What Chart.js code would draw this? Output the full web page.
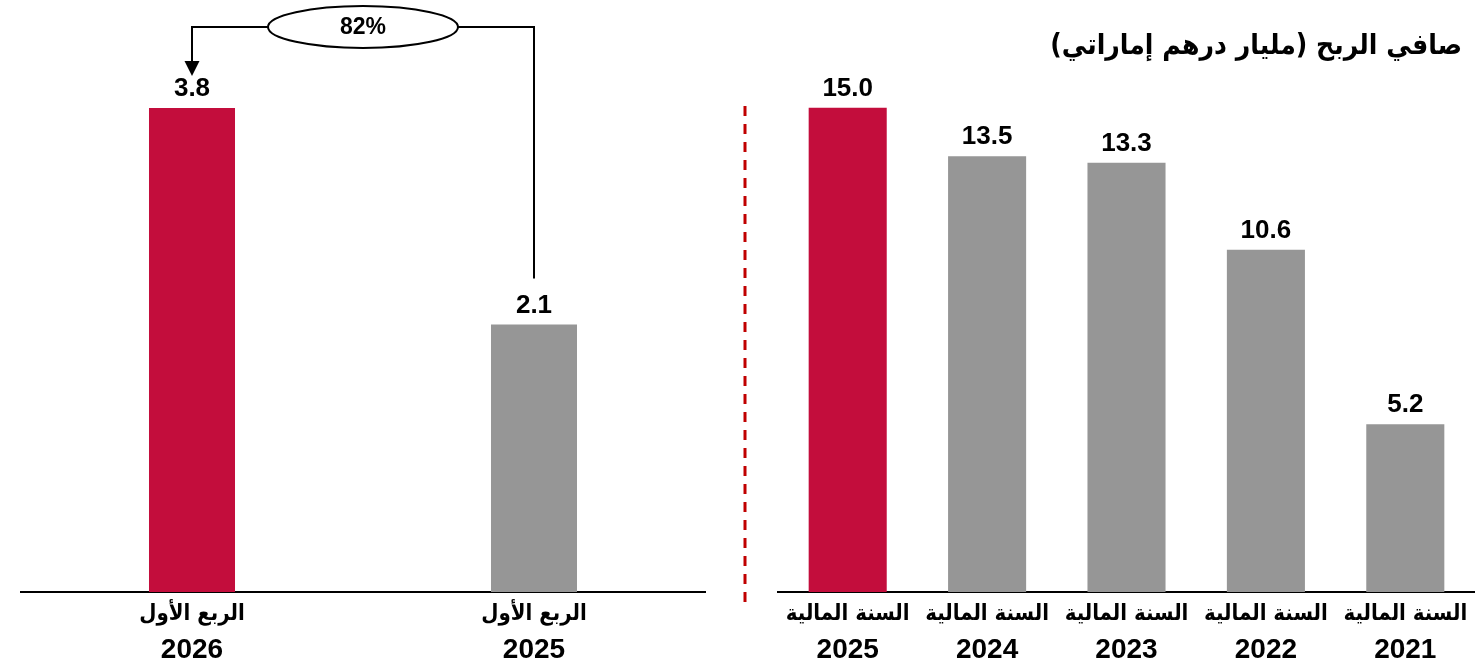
<!DOCTYPE html>
<html>
<head>
<meta charset="utf-8">
<script src="https://cdn.jsdelivr.net/npm/chart.js@4.4.1/dist/chart.umd.min.js"></script>
<style>
  html,body{margin:0;padding:0;background:#fff;}
  #wrap{position:relative;width:1475px;height:664px;overflow:hidden;}
  #left{position:absolute;left:0;top:0;}
  #right{position:absolute;left:730px;top:0;}
</style>
</head>
<body>
<div id="wrap">
  <canvas id="left" width="730" height="664"></canvas>
  <canvas id="right" width="745" height="664"></canvas>
</div>
<script>
// ---- data ----
const quarterLabels = [['الربع الأول', '2025'], ['الربع الأول', '2026']];
const quarterValues = [2.1, 3.8];
const yearLabels = [['السنة المالية', '2021'], ['السنة المالية', '2022'], ['السنة المالية', '2023'], ['السنة المالية', '2024'], ['السنة المالية', '2025']];
const yearValues = [5.2, 10.6, 13.3, 13.5, 15.0];
const growthLabel = '82%';
const titleText = 'صافي الربح (مليار درهم إماراتي)';

const RED = '#C30D3C';
const GREY = '#969696';
const FONT = "'Liberation Sans', Arial, 'DejaVu Sans', sans-serif";
const AR_FONT = "'DejaVu Sans Condensed', 'DejaVu Sans', sans-serif";

function colorsFor(values) {
  return values.map((v, i) => i === values.length - 1 ? RED : GREY);
}

const valueLabelPlugin = {
  id: 'valueLabels',
  afterDatasetsDraw(chart) {
    const ctx = chart.ctx;
    const meta = chart.getDatasetMeta(0);
    const vals = chart.data.datasets[0].data;
    ctx.save();
    ctx.fillStyle = '#000';
    ctx.font = 'bold 26px ' + FONT;
    ctx.textAlign = 'center';
    ctx.textBaseline = 'middle';
    meta.data.forEach((bar, i) => {
      ctx.fillText(vals[i].toFixed(1), bar.x, bar.y - 19);
    });
    ctx.restore();
  }
};

// Arabic first line of each category label, placed at the x scale's tick positions
const arabicTickPlugin = {
  id: 'arabicTicks',
  afterDraw(chart) {
    const ctx = chart.ctx;
    const xs = chart.scales.x;
    const labels = chart.data.labels;
    ctx.save();
    ctx.fillStyle = '#000';
    ctx.font = 'bold 22px ' + AR_FONT;
    ctx.textAlign = 'center';
    ctx.textBaseline = 'middle';
    ctx.direction = 'rtl';
    labels.forEach((lab, i) => {
      ctx.fillText(lab[0], xs.getPixelForTick(i), xs.top + 22);
    });
    ctx.restore();
  }
};

const arrowPlugin = {
  id: 'growthArrow',
  afterDraw(chart) {
    const ctx = chart.ctx;
    const meta = chart.getDatasetMeta(0);
    const from = meta.data[0]; // 2025 (right)
    const to = meta.data[1];   // 2026 (left)
    const cx = (from.x + to.x) / 2;
    const cy = 27;
    const rx = 95, ry = 21;
    ctx.save();
    ctx.strokeStyle = '#000';
    ctx.fillStyle = '#000';
    ctx.lineWidth = 2;
    ctx.beginPath();
    ctx.moveTo(cx + rx, cy);
    ctx.lineTo(from.x, cy);
    ctx.lineTo(from.x, from.y - 46);
    ctx.stroke();
    ctx.beginPath();
    ctx.moveTo(cx - rx, cy);
    ctx.lineTo(to.x, cy);
    ctx.lineTo(to.x, to.y - 46);
    ctx.stroke();
    const tipY = to.y - 32;
    ctx.beginPath();
    ctx.moveTo(to.x, tipY);
    ctx.lineTo(to.x - 7.5, tipY - 15);
    ctx.lineTo(to.x + 7.5, tipY - 15);
    ctx.closePath();
    ctx.fill();
    ctx.beginPath();
    ctx.ellipse(cx, cy, rx, ry, 0, 0, Math.PI * 2);
    ctx.fillStyle = '#fff';
    ctx.fill();
    ctx.stroke();
    ctx.fillStyle = '#000';
    ctx.font = 'bold 23px ' + FONT;
    ctx.textAlign = 'center';
    ctx.textBaseline = 'middle';
    ctx.fillText(growthLabel, cx, cy + 1);
    ctx.restore();
  }
};

const rightDecorPlugin = {
  id: 'rightDecor',
  afterDraw(chart) {
    const ctx = chart.ctx;
    ctx.save();
    ctx.strokeStyle = '#C00000';
    ctx.lineWidth = 3;
    ctx.setLineDash([10, 8]);
    ctx.beginPath();
    ctx.moveTo(15, 106);
    ctx.lineTo(15, 602);
    ctx.stroke();
    ctx.setLineDash([]);
    ctx.fillStyle = '#000';
    ctx.font = 'bold 28px ' + AR_FONT;
    ctx.textAlign = 'right';
    ctx.textBaseline = 'middle';
    ctx.direction = 'rtl';
    ctx.fillText(titleText, chart.width - 13, 47);
    ctx.restore();
  }
};

function makeOptions(maxY, pad, barPct) {
  return {
    responsive: false,
    animation: false,
    devicePixelRatio: 1,
    layout: { padding: pad },
    plugins: { legend: { display: false }, tooltip: { enabled: false }, title: { display: false } },
    datasets: { bar: { barPercentage: barPct, categoryPercentage: 1 } },
    scales: {
      y: { display: false, min: 0, max: maxY },
      x: {
        reverse: true,
        grid: { display: false, drawTicks: false },
        border: { display: true, color: '#000', width: 2 },
        afterFit(scale) { scale.height = 72; },
        ticks: {
          color: '#000',
          padding: 41,
          maxRotation: 0,
          autoSkip: false,
          callback(value) { return this.chart.data.labels[value][1]; },
          font: { family: FONT, size: 28, weight: 'bold', lineHeight: 1.2 }
        }
      }
    }
  };
}

new Chart(document.getElementById('left'), {
  type: 'bar',
  data: {
    labels: quarterLabels,
    datasets: [{ data: quarterValues, backgroundColor: colorsFor(quarterValues), borderWidth: 0 }]
  },
  options: makeOptions(4.6, { left: 21, right: 25, top: 6, bottom: 0 }, 0.2515),
  plugins: [valueLabelPlugin, arrowPlugin, arabicTickPlugin]
});

new Chart(document.getElementById('right'), {
  type: 'bar',
  data: {
    labels: yearLabels,
    datasets: [{ data: yearValues, backgroundColor: colorsFor(yearValues), borderWidth: 0 }]
  },
  options: makeOptions(18, { left: 48, right: 0, top: 11, bottom: 0 }, 0.56),
  plugins: [valueLabelPlugin, rightDecorPlugin, arabicTickPlugin]
});
</script>
</body>
</html>
